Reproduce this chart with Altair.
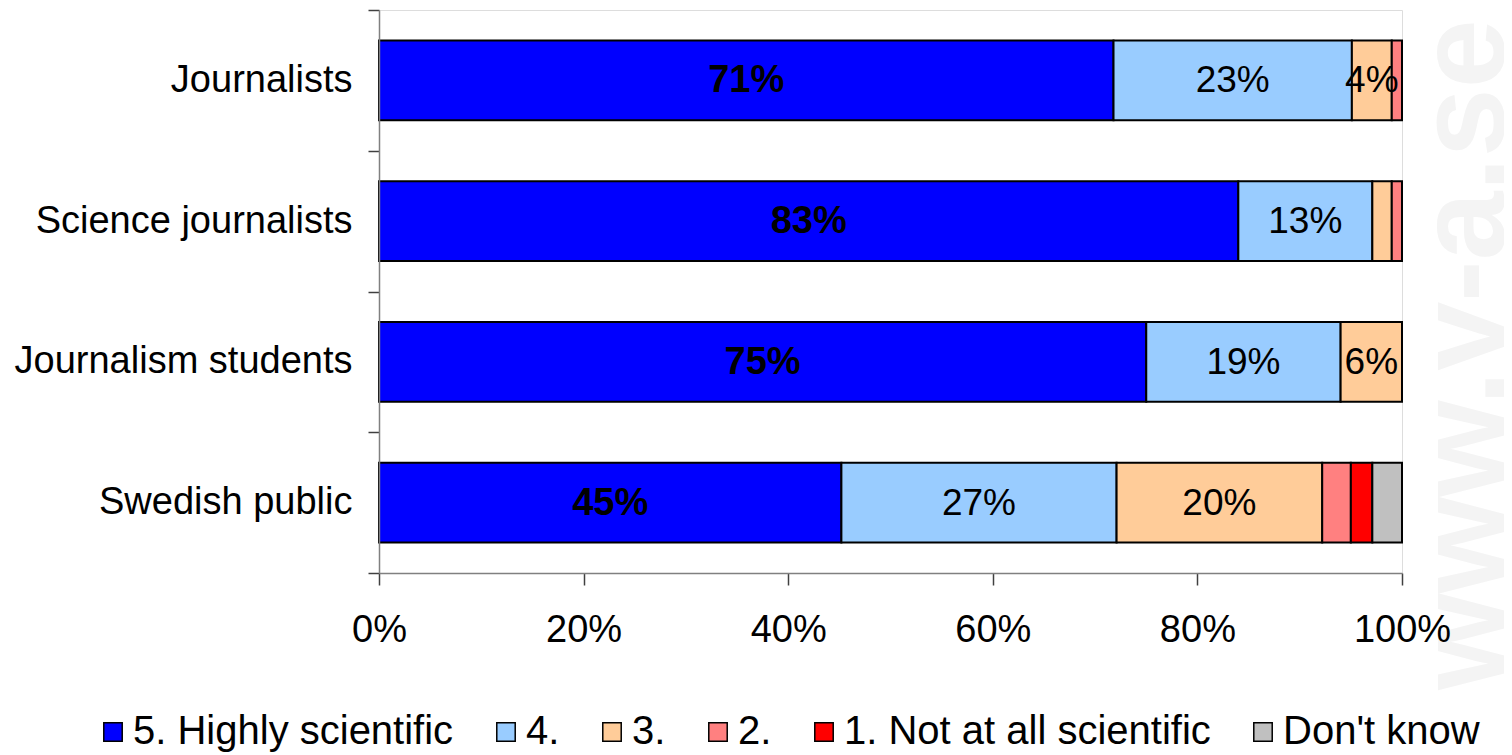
import altair as alt
import pandas as pd

categories = ["Journalists", "Science journalists", "Journalism students", "Swedish public"]
levels = ["5. Highly scientific", "4.", "3.", "2.", "1. Not at all scientific", "Don't know"]
colors = ["#0000FF", "#99CCFF", "#FFCC99", "#FF8080", "#FF0000", "#C0C0C0"]

v5 = [71.8, 84.0, 75.0, 45.2]
v4 = [23.3, 13.1, 19.0, 26.9]
v3 = [3.9, 1.9, 6.0, 20.1]
v2 = [1.0, 1.0, 0.0, 2.8]
v1 = [0.0, 0.0, 0.0, 2.1]
vdk = [0.0, 0.0, 0.0, 2.9]

l5 = ["71%", "83%", "75%", "45%"]
l4 = ["23%", "13%", "19%", "27%"]
l3 = ["4%", "", "6%", "20%"]
l2 = ["", "", "", ""]
l1 = ["", "", "", ""]
ldk = ["", "", "", ""]

x_ticks = [0, 20, 40, 60, 80, 100]
watermark = "www.v-a.se"

series = [v5, v4, v3, v2, v1, vdk]
labels = [l5, l4, l3, l2, l1, ldk]
rows = []
for li, (lev, vals, labs) in enumerate(zip(levels, series, labels)):
    for c, v, t in zip(categories, vals, labs):
        if v > 0:
            rows.append({"cat": c, "level": lev, "ord": li, "value": v, "label": t})
df = pd.DataFrame(rows)

FONT = "Liberation Sans"

base = alt.Chart(df).transform_stack(
    stack="value", groupby=["cat"], as_=["x0", "x1"], sort=[alt.SortField("ord", "ascending")]
).transform_calculate(mid="(datum.x0 + datum.x1) / 2")

yenc = alt.Y(
    "cat:N",
    sort=categories,
    scale=alt.Scale(paddingInner=0, paddingOuter=0),
    axis=alt.Axis(
        title=None, tickBand="extent", labelFontSize=38, labelFont=FONT, labelColor="black",
        labelPadding=16, tickSize=11, tickColor="#404040", domainColor="#808080",
        domainWidth=1.5, tickWidth=1.5, labelLimit=500, zindex=1,
    ),
)

bars = base.mark_bar(stroke="black", strokeWidth=2, height=alt.RelativeBandSize(0.565)).encode(
    x=alt.X(
        "x0:Q",
        scale=alt.Scale(domain=[0, 100], nice=False),
        axis=alt.Axis(
            title=None, values=x_ticks, labelExpr="datum.value + '%'", labelFontSize=38,
            labelFont=FONT, labelColor="black", labelPadding=26, tickSize=12,
            tickColor="#404040", domainColor="#808080", domainWidth=1.5, tickWidth=1.5,
            grid=False, labelFlush=False, zindex=1,
        ),
    ),
    x2="x1:Q",
    y=yenc,
    color=alt.Color(
        "level:N",
        sort=levels,
        scale=alt.Scale(domain=levels, range=colors),
        legend=alt.Legend(
            title=None, orient="none", direction="horizontal", legendX=-286, legendY=702,
            padding=0, symbolType="square", symbolSize=340, symbolStrokeColor="black",
            symbolStrokeWidth=1.5, symbolOpacity=1, labelFontSize=40, labelFont=FONT,
            labelColor="black", labelOffset=0, columnPadding=32, labelLimit=600,
        ),
    ),
)

txt_bold = base.transform_filter("datum.ord == 0").mark_text(
    fontSize=38, font=FONT, fontWeight="bold", color="black", baseline="middle", dy=1
).encode(x="mid:Q", y=alt.Y("cat:N", sort=categories), text="label:N")

txt_norm = base.transform_filter("datum.ord > 0 && datum.label != ''").mark_text(
    fontSize=37, font=FONT, color="black", baseline="middle", dy=1
).encode(x="mid:Q", y=alt.Y("cat:N", sort=categories), text="label:N")

wm = alt.Chart(pd.DataFrame({"t": [watermark]})).mark_text(
    fontSize=124, font=FONT, fontWeight="bold", color="#F4F4F4", angle=270,
    align="left", baseline="alphabetic",
).encode(x=alt.value(1125), y=alt.value(680), text="t:N")

chart = alt.layer(wm, bars, txt_bold, txt_norm).properties(
    width=1023, height=563,
    autosize=alt.AutoSizeParams(type="none"),
    padding={"left": 371, "top": 2, "right": 102, "bottom": 180},
).configure_view(stroke=None).configure(background="white")

chart.save("out.html", embed_options={"renderer": "svg", "actions": False})
